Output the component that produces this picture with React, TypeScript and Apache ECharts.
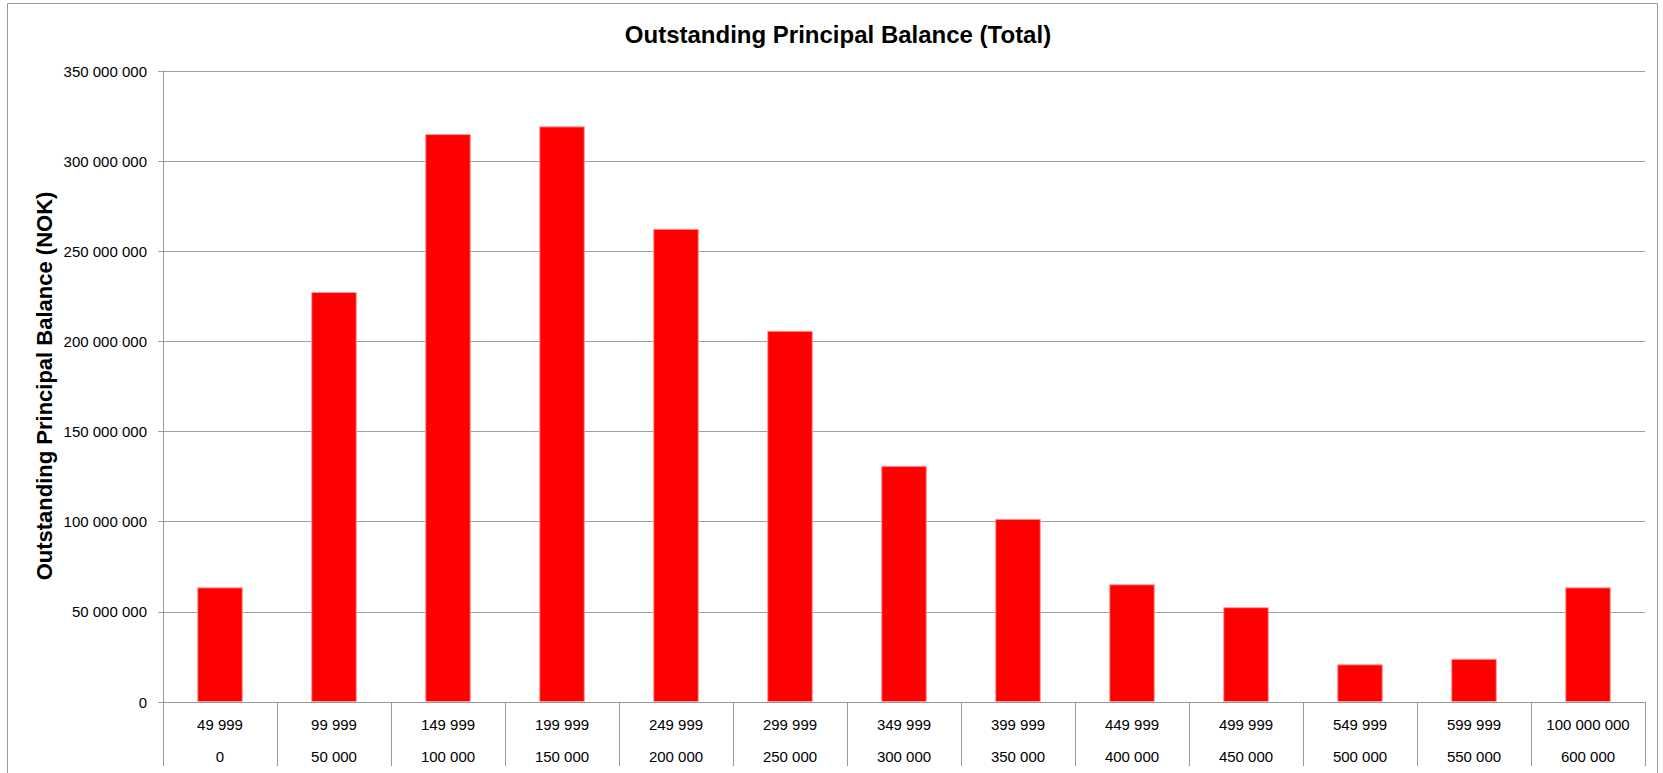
import React, { useEffect, useRef } from "react";
import * as echarts from "echarts";

const upperBounds = ["49 999", "99 999", "149 999", "199 999", "249 999", "299 999", "349 999", "399 999", "449 999", "499 999", "549 999", "599 999", "100 000 000"];
const lowerBounds = ["0", "50 000", "100 000", "150 000", "200 000", "250 000", "300 000", "350 000", "400 000", "450 000", "500 000", "550 000", "600 000"];
const balanceValues = [63600000, 227400000, 315000000, 319300000, 262500000, 205900000, 131000000, 101600000, 65300000, 52600000, 20900000, 24000000, 63600000];
const chartTitle = "Outstanding Principal Balance (Total)";
const yAxisTitle = "Outstanding Principal Balance (NOK)";

const fmt = (v: number) => String(Math.round(v)).replace(/\B(?=(\d{3})+(?!\d))/g, " ");

export default function App() {
  const ref = useRef<HTMLDivElement>(null);
  useEffect(() => {
    if (!ref.current) return;
    const chart = echarts.init(ref.current, undefined, { renderer: "svg" });
    const font = "'Liberation Sans', Arial, sans-serif";
    const categories = upperBounds.map((u, i) => u + "\n" + lowerBounds[i]);
    chart.setOption({
      animation: false,
      backgroundColor: "#ffffff",
      textStyle: { fontFamily: font },
      title: {
        text: chartTitle,
        left: 833,
        top: 17,
        textAlign: "center",
        textStyle: { fontFamily: font, fontWeight: "bold", fontSize: 24, color: "#000" },
      },
      graphic: [
        {
          type: "rect",
          shape: { x: 7.5, y: 3.5, width: 1650, height: 800 },
          style: { fill: "none", stroke: "#9a9a9a", lineWidth: 1 },
          silent: true,
        },
        {
          type: "text",
          x: 44,
          y: 386,
          rotation: Math.PI / 2,
          style: {
            text: yAxisTitle,
            fontFamily: font,
            fontWeight: "bold",
            fontSize: 22,
            fill: "#000",
            align: "center",
            verticalAlign: "middle",
          },
        },
      ],
      grid: { left: 163, right: 18, top: 71, bottom: 71, containLabel: false },
      xAxis: {
        type: "category",
        data: categories,
        axisLine: { show: true, lineStyle: { color: "#9a9a9a", width: 1 } },
        axisTick: { show: true, interval: 0, length: 64, lineStyle: { color: "#9a9a9a" } },
        axisLabel: {
          interval: 0,
          margin: 6,
          lineHeight: 32,
          fontSize: 15,
          color: "#000",
          fontFamily: font,
        },
      },
      yAxis: {
        type: "value",
        min: 0,
        max: 350000000,
        interval: 50000000,
        axisLine: { show: true, lineStyle: { color: "#9a9a9a", width: 1 } },
        axisTick: { show: true, length: 5, lineStyle: { color: "#9a9a9a" } },
        axisLabel: { margin: 16, fontSize: 15, color: "#000", fontFamily: font, formatter: (v: number) => fmt(v) },
        splitLine: { show: true, lineStyle: { color: "#a0a0a0", width: 1 } },
      },
      series: [
        {
          type: "bar",
          data: balanceValues,
          barWidth: "40%",
          itemStyle: { color: "#ff0000", borderColor: "#ff9a9a", borderWidth: 1 },
        },
      ],
    });
    return () => chart.dispose();
  }, []);
  return <div ref={ref} style={{ position: "absolute", left: 0, top: 0, width: 1663, height: 773 }} />;
}
